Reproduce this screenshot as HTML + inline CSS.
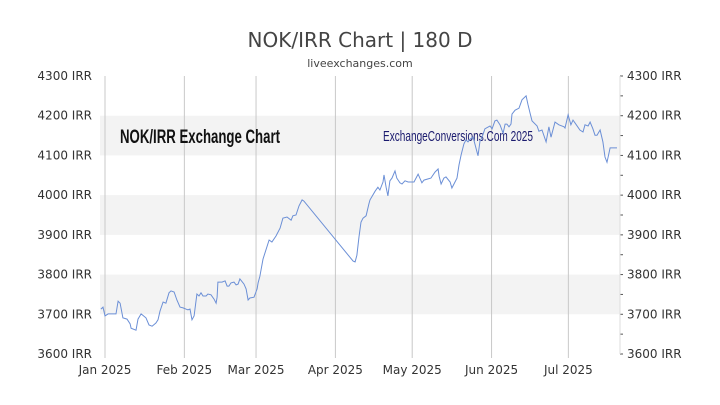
<!DOCTYPE html>
<html><head><meta charset="utf-8"><style>
body{margin:0;background:#fff;}
svg{display:block;font-family:"DejaVu Sans","Liberation Sans",sans-serif;}
</style></head><body>
<svg id="chart" width="720" height="405" viewBox="0 0 720 405">
<text x="360" y="47" text-anchor="middle" font-size="20" fill="#444">NOK/IRR Chart | 180 D</text>
<text x="360" y="67" text-anchor="middle" font-size="11" fill="#444">liveexchanges.com</text>
<g id="bands"></g><g id="grid"></g><g id="axes"></g>
<text x="120" y="143" font-size="19" font-weight="bold" fill="#111" font-family="Liberation Sans Narrow, Liberation Sans, sans-serif" textLength="160" lengthAdjust="spacingAndGlyphs">NOK/IRR Exchange Chart</text>
<text x="383" y="141" font-size="15" fill="#1a1a6e" font-family="Liberation Sans Narrow, Liberation Sans, sans-serif" textLength="150" lengthAdjust="spacingAndGlyphs">ExchangeConversions.Com 2025</text>
<g id="series"></g>
</svg>
<script>
const days=[-1.6,-0.8,0,1.2,4.3,5.1,5.9,7,8.6,9.8,10.2,12.1,12.9,14.1,16,17.2,18.4,19.9,20.7,21.5,22.7,23.8,25,25.8,27,28.1,29.3,30.5,31.6,32.4,33.2,34,34.8,35.9,36.7,37.5,38.3,39.5,40.2,41.4,42.6,43.4,43.8,44.1,45.7,46.9,47.7,48.4,49.2,50.4,51.2,52,52.7,54.3,55.1,55.9,56.6,58.2,59.4,59.8,60.5,61.7,64.1,65.2,66.8,68.4,69.5,71.1,72.7,73.4,74.6,75.8,77,77.7,96.9,97.7,98.4,99.2,100,100.8,102,103.1,103.5,105.5,106.6,107.4,108.6,109,109.8,110.5,111.3,112.1,113.3,114,115.2,116,117.2,118.4,120.7,122.3,123.8,124.6,126.2,127.3,128.9,130.1,130.5,131.3,132.4,133.2,134.8,135.5,136.7,137.5,138.3,139.1,140.2,141,141.8,142.6,143.8,145.7,146.5,147.3,148.4,150.4,151.2,152.3,153.1,154.3,155.5,156.3,157,157.8,158.6,159,160.2,161.7,162.9,164.5,165.2,166,166.8,168.8,169.5,170.7,172.3,173.4,174.2,175.8,177.3,179.3,179.7,180.9,182,182.8,183.6,185.5,186.7,187.5,188.7,189.5,190.6,191.4,192.2,193.4,194.5,195.3,196.1,197.3,198.8,200];
const rates=[3713,3718,3696,3701,3701,3733,3728,3691,3688,3676,3665,3660,3688,3701,3691,3673,3670,3678,3686,3708,3731,3728,3754,3759,3756,3736,3718,3716,3713,3711,3713,3686,3696,3751,3746,3754,3746,3746,3751,3749,3738,3728,3743,3781,3781,3784,3771,3771,3779,3781,3774,3776,3789,3776,3764,3736,3741,3743,3764,3779,3796,3839,3887,3882,3897,3917,3942,3945,3937,3948,3950,3973,3988,3985,3834,3832,3849,3895,3932,3942,3948,3978,3988,4010,4020,4013,4033,4051,4020,3998,4036,4043,4061,4043,4031,4028,4036,4033,4033,4053,4031,4038,4041,4043,4058,4066,4048,4028,4043,4046,4033,4018,4033,4043,4076,4101,4129,4139,4134,4141,4146,4099,4136,4146,4167,4174,4167,4187,4189,4177,4156,4179,4179,4172,4179,4204,4214,4219,4240,4250,4229,4207,4187,4174,4161,4164,4134,4172,4146,4184,4177,4172,4169,4202,4177,4189,4182,4164,4159,4177,4174,4184,4167,4151,4151,4164,4134,4096,4083,4119,4119,4119];
const yTicks=[3600,3700,3800,3900,4000,4100,4200,4300];
const monthLabels=["Jan 2025","Feb 2025","Mar 2025","Apr 2025","May 2025","Jun 2025","Jul 2025"];
const monthDays=[0,31,59,90,120,151,181];
const L=100,R=620,T=76,B=354;
const X=d=>105+d*2.56;
const Y=v=>B-(v-3600)/700*(B-T);
const NS="http://www.w3.org/2000/svg";
function mk(tag,parent,attrs){const e=document.createElementNS(NS,tag);for(const k in attrs)e.setAttribute(k,attrs[k]);parent.appendChild(e);return e;}
const bands=document.getElementById('bands'),grid=document.getElementById('grid'),axes=document.getElementById('axes'),series=document.getElementById('series');
[3700,3900,4100].forEach(v=>{
 const r=mk('rect',bands,{x:L,y:Y(v+100),width:R-L,height:Y(v)-Y(v+100),fill:'#f3f3f3'});
 
 
});
monthDays.forEach((d,i)=>{
 const l=mk('line',grid,{x1:X(d),x2:X(d),y1:T,y2:B+4,stroke:'#c8c8c8','stroke-width':1});
 
 
 const t=mk('text',axes,{x:X(d),y:B+20,'text-anchor':'middle','font-size':12,fill:'#333'});
 t.textContent=monthLabels[i];
 
 
});
yTicks.forEach(v=>{
 const a=mk('text',axes,{x:92,y:Y(v)+4,'text-anchor':'end','font-size':12,fill:'#333'});
 a.textContent=v+' IRR';
 
 
 const b=mk('text',axes,{x:627,y:Y(v)+4,'text-anchor':'start','font-size':12,fill:'#333'});
 b.textContent=v+' IRR';
 
 
});
for(let v=3600;v<=4300;v+=50){
 const t=mk('line',axes,{x1:R,x2:R+3,y1:Y(v),y2:Y(v),stroke:'#555'});
 
 
}
const ax=mk('line',axes,{x1:R,x2:R,y1:T,y2:B,stroke:'#ddd'});


const path=mk('polyline',series,{points:days.map((d,i)=>X(d).toFixed(1)+','+Y(rates[i]).toFixed(1)).join(' '),fill:'none',stroke:'#6b8fd6','stroke-width':1});


</script>
</body></html>
